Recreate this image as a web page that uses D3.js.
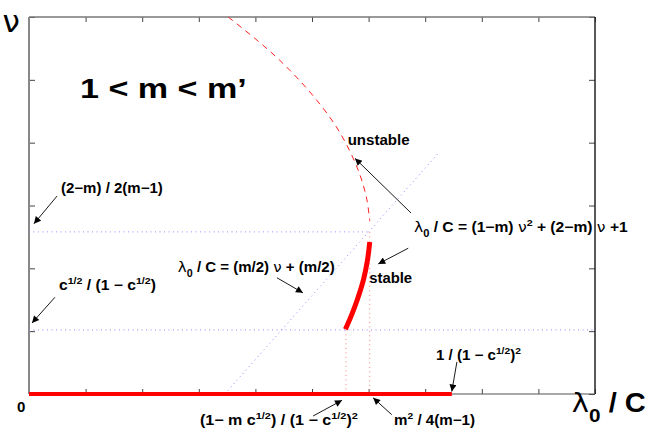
<!DOCTYPE html>
<html><head><meta charset="utf-8">
<script src="https://cdn.jsdelivr.net/npm/d3@7"></script>
<style>body{margin:0;background:#fff}svg{display:block}</style>
</head><body>
<svg id="c" width="654" height="436"></svg>
<script>
// ---- data (in axis units: x = lambda0/C, y = nu) ----
const xDomain = [0, 10];
const yDomain = [0, 6];
const xTickValues = [0,1,2,3,4,5,6,7,8,9,10];
const yTickValues = [0,1,2,3,4,5,6];
const nuVertex = 2.58;          // (2-m)/2(m-1)
const nuLow = 1.02;             // c^1/2/(1-c^1/2)
const lamLow = 5.60;            // (1- m c^1/2)/(1-c^1/2)^2
const lamVertex = 6.02;         // m^2/4(m-1)
const lamStableEnd = 7.47;      // 1/(1-c^1/2)^2
const lineStart = [3.46, 0];    // lambda/C = (m/2)nu + m/2
const lineEnd = [7.24, 3.84];
const unstableBranch = [[3.52,6.0],[4.03,5.63],[4.42,5.32],[4.77,5.0],[5.08,4.68],[5.41,4.28],[5.66,3.88],[5.85,3.48],[5.97,3.09],[6.02,2.75]];
const stableBranch = [[6.02,2.42],[5.98,2.13],[5.91,1.82],[5.80,1.50],[5.70,1.26],[5.59,1.03]];
const arrows = [
  [[0.495,3.15],[0.088,2.71]],
  [[0.459,1.54],[0.053,1.13]],
  [[4.38,1.85],[4.84,1.61]],
  [[6.75,2.88],[5.76,3.75]],
  [[6.70,2.32],[6.17,2.07]],
  [[7.56,0.51],[7.47,0.04]],
  [[5.02,-0.35],[5.53,-0.10]],
  [[6.41,-0.33],[6.08,-0.06]]
];
// label segments: n normal, s symbol, sup, sub
const labels = [
  {pos:[0.565,3.20], w:102, size:14, segs:[["n","(2−m) / 2(m−1)"]]},
  {pos:[0.530,1.66], w:97, size:14, segs:[["n","c"],["sup","1/2"],["n"," / (1 − c"],["sup","1/2"],["n",")"]]},
  {pos:[2.63,1.94], w:157, size:14, segs:[["s","λ"],["sub","0"],["n"," / C = (m/2) "],["s","ν"],["n"," + (m/2)"]]},
  {pos:[6.80,2.58], w:214, size:14, segs:[["s","λ"],["sub","0"],["n"," / C = (1−m) "],["s","ν"],["sup","2"],["n"," + (2−m)  "],["s","ν"],["n","  +1"]]},
  {pos:[5.63,3.96], w:62, size:14.5, segs:[["n","unstable"]]},
  {pos:[6.01,1.76], w:43, size:14.5, segs:[["n","stable"]]},
  {pos:[7.19,0.54], w:85, size:14, segs:[["n","1 / (1 − c"],["sup","1/2"],["n",")"],["sup","2"]]},
  {pos:[3.02,-0.49], w:158, size:14, segs:[["n","(1− m c"],["sup","1/2"],["n",") / (1 − c"],["sup","1/2"],["n",")"],["sup","2"]]},
  {pos:[6.45,-0.49], w:81, size:14, segs:[["n","m"],["sup","2"],["n"," / 4(m−1)"]]},
  {pos:[-0.21,-0.29], w:0, size:15, segs:[["n","0"]]},
  {pos:[9.59,-0.29], w:74, size:27, segs:[["s","λ"],["sub","0"],["n"," / C"]]},
  {pos:[-0.47,5.76], w:0, size:31, segs:[["s","ν"]]},
  {pos:[0.90,4.71], w:167, size:28, segs:[["n","1 < m < m’"]]}
];

const svg = d3.select("#c");
const x = d3.scaleLinear(xDomain, [29, 595]);
const y = d3.scaleLinear(yDomain, [394, 17]);

const defs = svg.append("defs");
defs.append("marker").attr("id","ah").attr("viewBox","0 0 10 10").attr("refX",10).attr("refY",5)
  .attr("markerWidth",9).attr("markerHeight",7).attr("markerUnits","userSpaceOnUse").attr("orient","auto")
  .append("path").attr("d","M0,0 L10,5 L0,10 Z").attr("fill","#000");

// axes (ticks inward, no labels)
function ax(gen, tx, ty){
  const g = svg.append("g").attr("transform",`translate(${tx},${ty})`).call(gen);
  g.selectAll("text").remove();
  g.select(".domain").remove();
  g.selectAll("line").attr("stroke","#444").attr("stroke-width",1);
  return g;
}
ax(d3.axisBottom(x).tickValues(xTickValues).tickSizeInner(-5).tickSizeOuter(0), 0, 394);
ax(d3.axisTop(x).tickValues(xTickValues).tickSizeInner(-5).tickSizeOuter(0), 0, 17);
ax(d3.axisLeft(y).tickValues(yTickValues).tickSizeInner(-6).tickSizeOuter(0), 29, 0);
ax(d3.axisRight(y).tickValues(yTickValues).tickSizeInner(-6).tickSizeOuter(0), 595, 0);

// frame
svg.append("line").attr("x1",x(0)).attr("x2",x(10)).attr("y1",y(6)).attr("y2",y(6)).attr("stroke","#777").attr("stroke-width",1.5);
svg.append("line").attr("x1",x(10)).attr("x2",x(10)).attr("y1",y(6)).attr("y2",y(0)).attr("stroke","#222").attr("stroke-width",1.5);
svg.append("line").attr("x1",x(0)).attr("x2",x(10)).attr("y1",y(0)).attr("y2",y(0)).attr("stroke","#555").attr("stroke-width",1.2);
svg.append("line").attr("x1",x(0)).attr("x2",x(0)).attr("y1",y(6)).attr("y2",y(0)).attr("stroke","#888").attr("stroke-width",2);

const blue = "#8c8cff", pink = "#ff7a7a";
// dotted guide lines
svg.append("line").attr("x1",x(0)).attr("x2",x(lamVertex)).attr("y1",y(nuVertex)).attr("y2",y(nuVertex))
  .attr("stroke",blue).attr("stroke-width",1).attr("stroke-dasharray","1,3.5");
svg.append("line").attr("x1",x(0)).attr("x2",x(10)).attr("y1",y(nuLow)).attr("y2",y(nuLow))
  .attr("stroke",blue).attr("stroke-width",1).attr("stroke-dasharray","1,3.5");
svg.append("line").attr("x1",x(lineStart[0])).attr("x2",x(lineEnd[0])).attr("y1",y(lineStart[1])).attr("y2",y(lineEnd[1]))
  .attr("stroke",blue).attr("stroke-width",1).attr("stroke-dasharray","1,3.5");
svg.append("line").attr("x1",x(lamVertex)).attr("x2",x(lamVertex)).attr("y1",y(nuVertex)).attr("y2",y(0))
  .attr("stroke",pink).attr("stroke-width",1).attr("stroke-dasharray","1,3.5");
svg.append("line").attr("x1",x(lamLow)).attr("x2",x(lamLow)).attr("y1",y(nuLow)).attr("y2",y(0))
  .attr("stroke",pink).attr("stroke-width",1).attr("stroke-dasharray","1,3.5");

const line = d3.line().x(d=>x(d[0])).y(d=>y(d[1])).curve(d3.curveCatmullRom);
svg.append("path").attr("d",line(unstableBranch)).attr("fill","none").attr("stroke","#ff2020")
  .attr("stroke-width",1).attr("stroke-dasharray","6,5");
svg.append("path").attr("d",line(stableBranch)).attr("fill","none").attr("stroke","#ff0000")
  .attr("stroke-width",5);
svg.append("line").attr("x1",x(0)).attr("x2",x(lamStableEnd)).attr("y1",y(0)).attr("y2",y(0))
  .attr("stroke","#ff0000").attr("stroke-width",4);

// arrows
arrows.forEach(a=>{
  svg.append("line").attr("x1",x(a[0][0])).attr("y1",y(a[0][1])).attr("x2",x(a[1][0])).attr("y2",y(a[1][1]))
    .attr("stroke","#000").attr("stroke-width",0.9).attr("marker-end","url(#ah)");
});

// labels
labels.forEach(L=>{
  const px = x(L.pos[0]), py = y(L.pos[1]);
  const t = svg.append("text").attr("x",0).attr("y",0)
    .attr("font-family","Liberation Sans, Arial, sans-serif").attr("font-weight","bold")
    .attr("font-size",L.size).attr("fill","#000");
  let shift = 0;
  const ss = L.size*0.68;
  L.segs.forEach(([k,s])=>{
    const sp = t.append("tspan").text(s);
    let target = 0, fs = L.size;
    if(k==="sup"){target = -L.size*0.42; fs = ss;}
    if(k==="sub"){target = L.size*0.38; fs = ss*1.05;}
    sp.attr("dy", target - shift).attr("font-size", fs);
    shift = target;
    if(k==="s") sp.attr("font-weight","normal").attr("font-family","DejaVu Sans, sans-serif");
  });
  let sx = 1;
  if(L.w>0){
    const cur = t.node().getComputedTextLength();
    sx = L.w/cur;
  }
  t.attr("transform",`translate(${px},${py}) scale(${sx.toFixed(3)},1)`);
});
</script>
</body></html>
